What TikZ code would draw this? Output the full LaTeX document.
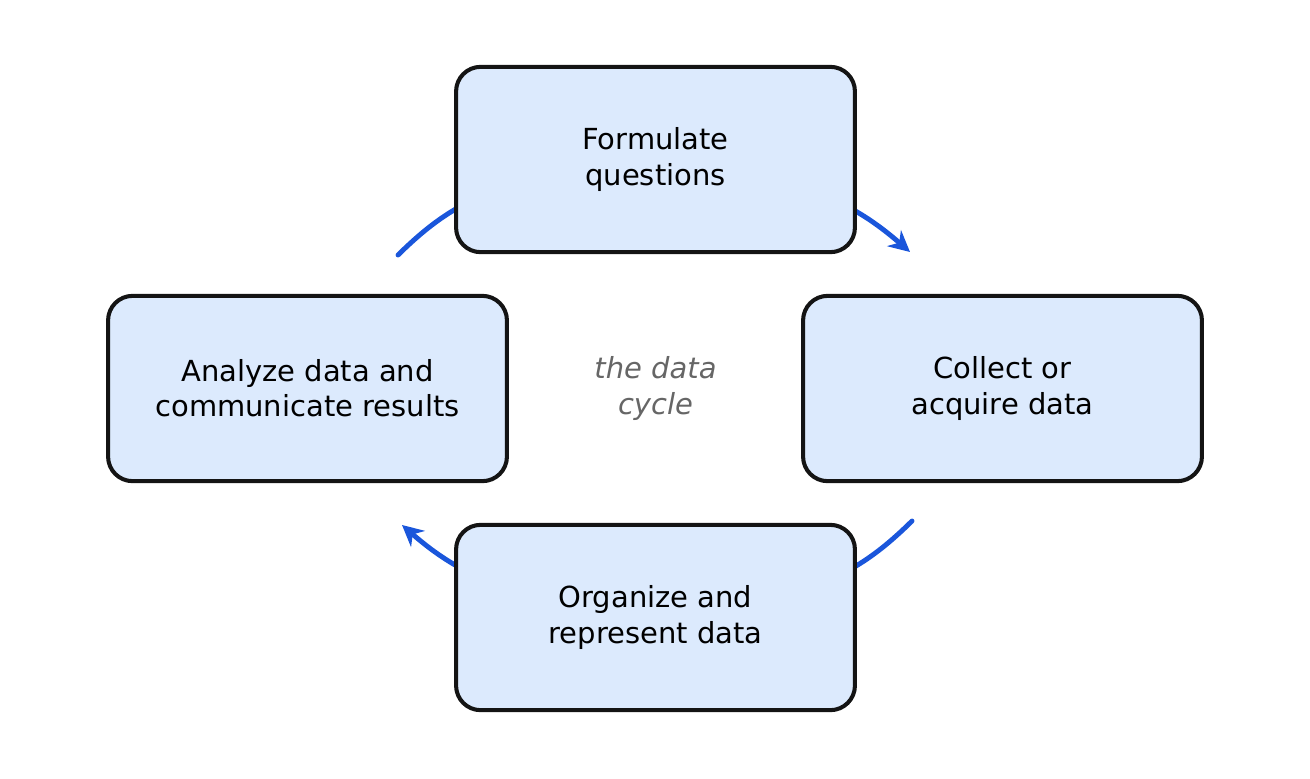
\documentclass[tikz,border=0pt]{standalone}
\usepackage{fontspec}
\setmainfont{DejaVu Sans}
\usetikzlibrary{calc,arrows.meta}
\definecolor{boxfill}{HTML}{DCEAFD}
\definecolor{arcblue}{HTML}{1A56DB}
\definecolor{labelgray}{HTML}{666666}
\tikzset{
    stage/.style={draw=black!92, line width=2.3pt, fill=boxfill, rounded corners=14pt,
        minimum width=11.3cm*0.7061, minimum height=5.25cm*0.7061, align=center,
        font=\fontsize{16.5}{20}\selectfont},
    flow/.style={draw=arcblue, line width=2.8pt, line cap=round, -{Stealth[length=12pt,width=12pt]}},
    flowplain/.style={draw=arcblue, line width=2.8pt, line cap=round}
}
\begin{document}
\begin{tikzpicture}[x=0.02cm,y=-0.02cm]
    \useasboundingbox (0,0) rectangle (1310,778);

    % arcs first, boxes cover their ends
    \coordinate (s1) at (398,255);
    \coordinate (e1) at (530,180);
    \coordinate (s2) at (780,180);
    \coordinate (e2) at (910,252);
    \coordinate (s3) at (912,521);
    \coordinate (e3) at (780,596);
    \coordinate (s4) at (530,596);
    \coordinate (e4) at (402,525);

    \draw [flowplain] (s1) to[bend left=15] (e1);
    \draw [flow] (s2) to[bend left=12] (e2);
    \draw [flowplain] (s3) to[bend left=15] (e3);
    \draw [flow] (s4) to[bend left=12] (e4);

    \node (top) at (655.5,159.5) [stage] {Formulate\\questions};
    \node (right) at ($(top) + (347,229)$) [stage] {Collect or\\acquire data};
    \node (bottom) at ($(top) + (0,458)$) [stage] {Organize and\\represent data};
    \node (left) at ($(top) + (-348,229)$) [stage] {Analyze data and\\communicate results};

    \node (cycle) at (655.5,388.5) [align=center, text=labelgray,
        font=\fontsize{16.5}{20}\selectfont\itshape] {the data\\cycle};
\end{tikzpicture}
\end{document}
